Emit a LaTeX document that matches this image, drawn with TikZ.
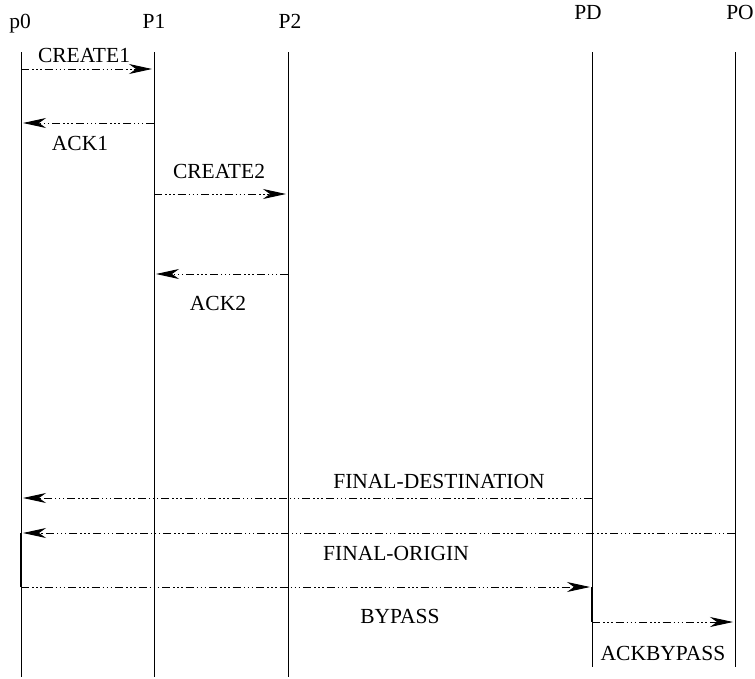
\documentclass[tikz,border=0pt]{standalone}
\usepackage{fontspec}
\setmainfont{Liberation Serif}
\usetikzlibrary{arrows.meta}

\tikzset{
  lifeline/.style={line width=0.9pt},
  hold/.style={line width=2pt},
  msg/.style={line width=0.9pt, shorten >=2pt,
    dash pattern=on 8pt off 3pt on 1.5pt off 2.5pt on 1.5pt off 2.5pt on 1.5pt off 3pt,
    -{Stealth[length=23pt,width=10pt,inset=7pt]}},
  lbl/.style={font=\fontsize{21.5}{24}\selectfont, inner sep=0pt, anchor=base}
}

\begin{document}
\begin{tikzpicture}[x=1pt,y=-1pt]
	\useasboundingbox (0,0) rectangle (755,678);
	% process names
	\node[lbl] (p0) at (20,28) {p0};
	\node[lbl] (P1) at (154,28) {P1};
	\node[lbl] (P2) at (290,28) {P2};
	\node[lbl] (PD) at (588,19) {PD};
	\node[lbl] (PO) at (740,19) {PO};
	% lifelines
	\coordinate (t0) at (21,52);   \coordinate (b0) at (21,677);
	\coordinate (t1) at (154,52);  \coordinate (b1) at (154,677);
	\coordinate (t2) at (288,52);  \coordinate (b2) at (288,677);
	\coordinate (tD) at (592,52);  \coordinate (bD) at (592,667);
	\coordinate (tO) at (735,52);  \coordinate (bO) at (735,667);
	\draw[lifeline] (t0) -- (b0);
	\draw[lifeline] (t1) -- (b1);
	\draw[lifeline] (t2) -- (b2);
	\draw[lifeline] (tD) -- (bD);
	\draw[lifeline] (tO) -- (bO);
	% message rows
	\coordinate (c1) at (0,69);
	\coordinate (a1) at (0,123);
	\coordinate (c2) at (0,194);
	\coordinate (a2) at (0,274);
	\coordinate (fd) at (0,498);
	\coordinate (fo) at (0,533);
	\coordinate (by) at (0,587);
	\coordinate (ab) at (0,622);
	% messages
	\draw[msg] (t0 |- c1) -- (t1 |- c1);
	\draw[msg] (t1 |- a1) -- (t0 |- a1);
	\draw[msg] (t1 |- c2) -- (t2 |- c2);
	\draw[msg] (t2 |- a2) -- (t1 |- a2);
	\draw[msg] (tD |- fd) -- (t0 |- fd);
	\draw[msg] (tO |- fo) -- (t0 |- fo);
	\draw[hold] (t0 |- fo) -- (t0 |- by);
	\draw[msg] (t0 |- by) -- (tD |- by);
	\draw[hold] (tD |- by) -- (tD |- ab);
	\draw[msg] (tD |- ab) -- (tO |- ab);
	% labels
	\node[lbl] (create1) at (84,62) {CREATE1};
	\node[lbl] (ack1) at (80,150) {ACK1};
	\node[lbl] (create2) at (219,178) {CREATE2};
	\node[lbl] (ack2) at (218,310) {ACK2};
	\node[lbl] (finaldest) at (439,488) {FINAL-DESTINATION};
	\node[lbl] (finalorig) at (396,560) {FINAL-ORIGIN};
	\node[lbl] (bypass) at (400,623) {BYPASS};
	\node[lbl] (ackbypass) at (663,660) {ACKBYPASS};
\end{tikzpicture}
\end{document}
